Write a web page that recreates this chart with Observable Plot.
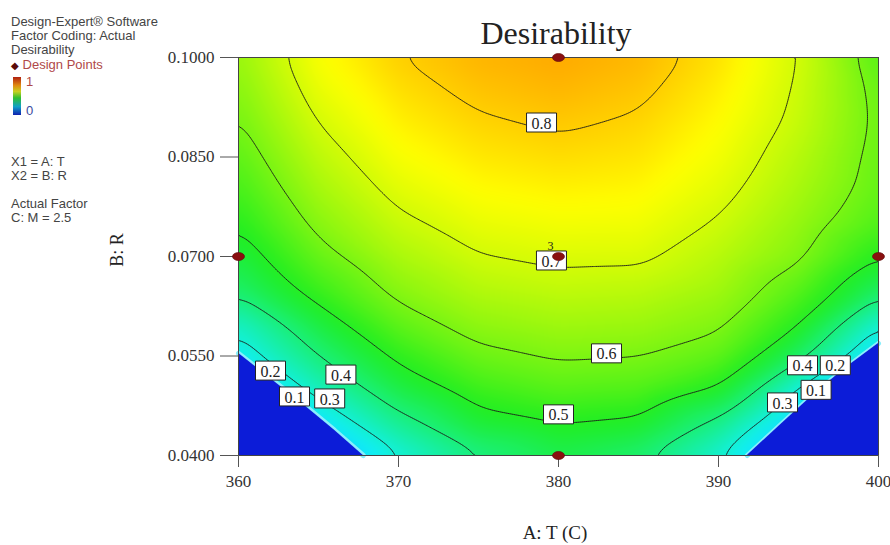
<!DOCTYPE html>
<html>
<head>
<meta charset="utf-8">
<script src="https://cdn.jsdelivr.net/npm/d3@7"></script>
<script src="https://cdn.jsdelivr.net/npm/@observablehq/plot@0.6"></script>
<style>
  html, body { margin: 0; padding: 0; background: #fff; }
  #page { position: relative; width: 890px; height: 545px; overflow: hidden; background: #fff; }
  #chart { position: absolute; left: 0; top: 0; }
  .lg { position: absolute; font-family: "Liberation Sans", Arial, sans-serif; font-size: 13px; line-height: 13px; color: #444; white-space: nowrap; }
  .serif { position: absolute; font-family: "Liberation Serif", "Times New Roman", serif; color: #222; white-space: nowrap; line-height: 1; }
</style>
</head>
<body>
<div id="page">
  <div id="chart"></div>
  <div class="serif" style="left:456px; width:200px; text-align:center; top:17px; font-size:32px;">Desirability</div>
  <div class="serif" style="left:455px; width:200px; text-align:center; top:523px; font-size:19px;">A: T (C)</div>
  <div class="serif" style="left:67px; width:100px; text-align:center; top:241px; font-size:18px; transform:rotate(-90deg);">B: R</div>

  <div class="lg" style="left:11px; top:15px;">Design-Expert® Software</div>
  <div class="lg" style="left:11px; top:29px;">Factor Coding: Actual</div>
  <div class="lg" style="left:11px; top:43px;">Desirability</div>
  <div class="lg" style="left:11px; top:58px; color:#b04848;"><span style="color:#5a0a0a; font-size:10px;">◆</span> Design Points</div>
  <div style="position:absolute; left:13px; top:77px; width:8px; height:38px; background:linear-gradient(to bottom, #b02010 0%, #e08a10 22%, #c8d020 38%, #30c030 55%, #10a0c8 78%, #1020b0 100%);"></div>
  <div class="lg" style="left:26px; top:75px; color:#b04848;">1</div>
  <div class="lg" style="left:26px; top:104px; color:#3a4aa0;">0</div>
  <div class="lg" style="left:11px; top:155px;">X1 = A: T</div>
  <div class="lg" style="left:11px; top:169px;">X2 = B: R</div>
  <div class="lg" style="left:11px; top:197px;">Actual Factor</div>
  <div class="lg" style="left:11px; top:211px;">C: M = 2.5</div>
</div>
<script>
// ---- Data ----
// Factor A: T grid (columns) and factor B: R grid (rows)
const T_VALUES = [360, 365, 370, 375, 380, 385, 390, 395, 400];
const R_VALUES = [0.040, 0.045, 0.050, 0.055, 0.060, 0.065, 0.070, 0.075, 0.080, 0.085, 0.090, 0.095, 0.100];
// Estimated desirability along each T column, R ascending (0.040 -> 0.100)
const D_T360 = [0.02, 0.10, 0.18, 0.26, 0.32, 0.42, 0.465, 0.506, 0.54, 0.568, 0.593, 0.615, 0.635];
const D_T365 = [0.15, 0.24, 0.325, 0.40, 0.465, 0.53, 0.578, 0.617, 0.648, 0.675, 0.701, 0.725, 0.745];
const D_T370 = [0.29, 0.375, 0.455, 0.515, 0.572, 0.618, 0.655, 0.688, 0.717, 0.742, 0.763, 0.782, 0.80];
const D_T375 = [0.39, 0.475, 0.532, 0.585, 0.627, 0.665, 0.698, 0.726, 0.751, 0.773, 0.793, 0.812, 0.828];
const D_T380 = [0.445, 0.503, 0.562, 0.607, 0.645, 0.68, 0.711, 0.737, 0.762, 0.785, 0.806, 0.825, 0.84];
const D_T385 = [0.41, 0.49, 0.555, 0.602, 0.64, 0.675, 0.71, 0.735, 0.757, 0.776, 0.793, 0.81, 0.825];
const D_T390 = [0.30, 0.385, 0.495, 0.57, 0.612, 0.645, 0.67, 0.695, 0.718, 0.737, 0.752, 0.766, 0.78];
const D_T395 = [0.14, 0.21, 0.29, 0.426, 0.508, 0.563, 0.612, 0.632, 0.652, 0.668, 0.685, 0.693, 0.70];
const D_T400 = [0.0, 0.06, 0.14, 0.22, 0.305, 0.43, 0.505, 0.555, 0.575, 0.58, 0.585, 0.58, 0.56];

// Zero-desirability corner boundaries
const ZERO_LEFT_T = [360, 362, 364, 366, 367.8];
const ZERO_LEFT_R = [0.0554, 0.0516, 0.0478, 0.0438, 0.040];
const ZERO_RIGHT_T = [391.8, 394, 396, 398, 400];
const ZERO_RIGHT_R = [0.040, 0.0449, 0.0493, 0.0533, 0.0569];

// Contour levels drawn and contour label anchors
const CONTOUR_LEVELS = [0.3, 0.4, 0.5, 0.6, 0.7, 0.8];
const LABEL_TEXT = ["0.8", "0.7", "0.6", "0.5", "0.4", "0.3", "0.2", "0.1", "0.4", "0.2", "0.1", "0.3"];
const LABEL_T = [378.94, 379.56, 383.0, 380.0, 366.4, 365.7, 362.0, 363.5, 395.25, 397.3, 396.1, 394.0];
const LABEL_R = [0.0902, 0.0694, 0.0554, 0.0462, 0.0522, 0.0486, 0.0528, 0.0489, 0.0536, 0.0536, 0.0499, 0.0480];

// Design points (A: T, B: R) and replicate counts
const DP_T = [360, 380, 380, 380, 400];
const DP_R = [0.07, 0.10, 0.07, 0.04, 0.07];
const DP_N = [1, 1, 3, 1, 1];

// Axis ticks
const X_TICKS = [360, 370, 380, 390, 400];
const Y_TICKS = [0.04, 0.055, 0.07, 0.085, 0.10];

// ---- Build tables ----
const D_COLUMNS = [D_T360, D_T365, D_T370, D_T375, D_T380, D_T385, D_T390, D_T395, D_T400];
const grid = [];
T_VALUES.forEach((t, i) => R_VALUES.forEach((r, j) => grid.push({T: t, R: r, D: D_COLUMNS[i][j]})));
const zeroLeft = ZERO_LEFT_T.map((t, i) => ({T: t, R: ZERO_LEFT_R[i]}));
const zeroRight = ZERO_RIGHT_T.map((t, i) => ({T: t, R: ZERO_RIGHT_R[i]}));
const labels = LABEL_TEXT.map((s, i) => ({text: s, T: LABEL_T[i], R: LABEL_R[i]}));
const points = DP_T.map((t, i) => ({T: t, R: DP_R[i], n: DP_N[i]}));
const reps = points.filter(d => d.n > 1);

const T_MIN = d3.min(T_VALUES), T_MAX = d3.max(T_VALUES);
const R_MIN = d3.min(R_VALUES), R_MAX = d3.max(R_VALUES);

const boxSymbol = {draw(ctx) { ctx.rect(-15, -9.5, 30, 19); }};
const ellipseSymbol = {draw(ctx) {
  const rx = 6, ry = 4, k = 0.5523;
  ctx.moveTo(rx, 0);
  ctx.bezierCurveTo(rx, ry * k, rx * k, ry, 0, ry);
  ctx.bezierCurveTo(-rx * k, ry, -rx, ry * k, -rx, 0);
  ctx.bezierCurveTo(-rx, -ry * k, -rx * k, -ry, 0, -ry);
  ctx.bezierCurveTo(rx * k, -ry, rx, -ry * k, rx, 0);
  ctx.closePath();
}};

const SERIF = "Liberation Serif, Times New Roman, serif";

const chart = Plot.plot({
  width: 890,
  height: 545,
  marginLeft: 238,
  marginRight: 12,
  marginTop: 57,
  marginBottom: 90,
  style: {fontFamily: SERIF, fontSize: "17px", color: "#333", background: "transparent"},
  x: {domain: [T_MIN, T_MAX]},
  y: {domain: [R_MIN, R_MAX]},
  color: {type: "linear", domain: [0, 0.25, 0.5, 0.75, 1], range: ["#1020e0", "#10f0ff", "#20ee20", "#ffff00", "#ff1000"]},
  marks: [
    Plot.raster(grid, {x: "T", y: "R", fill: "D", interpolate: "barycentric", blur: 8, x1: T_MIN, x2: T_MAX, y1: R_MIN, y2: R_MAX}),
    Plot.line(zeroLeft, {x: "T", y: "R", stroke: "#8aeefc", strokeWidth: 5}),
    Plot.line(zeroRight, {x: "T", y: "R", stroke: "#8aeefc", strokeWidth: 5}),
    Plot.areaY(zeroLeft, {x: "T", y1: R_MIN, y2: "R", fill: "#0c1cd8"}),
    Plot.areaY(zeroRight, {x: "T", y1: R_MIN, y2: "R", fill: "#0c1cd8"}),
    Plot.contour(grid, {x: "T", y: "R", value: "D", interpolate: "barycentric", blur: 5, thresholds: CONTOUR_LEVELS, stroke: "#1a1a1a", fill: "none", strokeWidth: 0.9, x1: T_MIN, x2: T_MAX, y1: R_MIN, y2: R_MAX}),
    Plot.frame({stroke: "#444", strokeWidth: 1}),
    Plot.axisX(X_TICKS, {tickSize: 12, tickPadding: 7, label: null, stroke: "#555", fontFamily: SERIF, fontSize: 17}),
    Plot.axisY(Y_TICKS, {tickSize: 18, tickPadding: 6, label: null, tickFormat: d3.format(".4f"), stroke: "#555", fontFamily: SERIF, fontSize: 17}),
    Plot.dot(labels, {x: "T", y: "R", symbol: boxSymbol, fill: "white", stroke: "#222", strokeWidth: 1}),
    Plot.text(labels, {x: "T", y: "R", text: "text", fontSize: 16, fontFamily: SERIF, fill: "#222", dy: 1}),
    Plot.dot(points, {x: "T", y: "R", symbol: ellipseSymbol, fill: "#8a1010", stroke: "#5a0808", strokeWidth: 0.6}),
    Plot.text(reps, {x: "T", y: "R", text: d => String(d.n), dx: -8, dy: -10, fontSize: 12, fontFamily: SERIF, fill: "#222"})
  ]
});
document.getElementById("chart").appendChild(chart);
</script>
</body>
</html>
